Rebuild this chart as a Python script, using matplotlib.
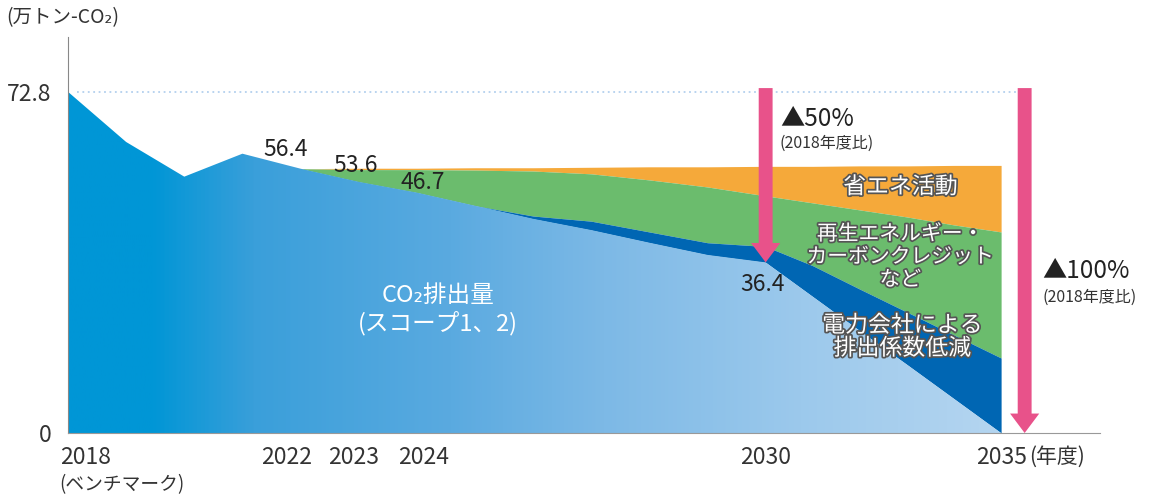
import numpy as np
import matplotlib
matplotlib.use('Agg')
import matplotlib.pyplot as plt
import matplotlib.patheffects as pe
from matplotlib.colors import LinearSegmentedColormap
from matplotlib.transforms import ScaledTranslation

plt.rcParams['font.family'] = ['Noto Sans CJK JP', 'DejaVu Sans']

#fiscal years
years = np.arange(2018, 2036)
#CO2 emissions (scope 1, 2), 10k t-CO2
co2 = np.array([72.8, 62.1, 54.7, 59.6, 56.4, 53.6, 51.3, 48.5, 45.7,
                43.3, 40.6, 38.0, 36.4, 29.1, 21.8, 14.6, 7.3, 0.0])
#reduction by lower emission factor of power companies
power_cut = np.array([0, 0, 0, 0, 0, 0, 0, 0, 0.6,
                      1.9, 2.3, 2.6, 3.4, 6.6, 8.9, 11.2, 13.6, 16.0])
#reduction by renewable energy / carbon credits
renew_cut = np.array([0, 0, 0, 0, 0, 2.6, 4.9, 7.6, 9.6,
                      10.1, 11.1, 11.9, 10.8, 13.4, 16.9, 20.3, 23.5, 26.9])
#reduction by energy saving
saving_cut = np.array([0, 0, 0, 0, 0, 0.3, 0.3, 0.5, 0.7,
                       1.4, 2.8, 4.3, 6.3, 7.8, 9.4, 10.9, 12.7, 14.2])

base_value = 72.8
tick_years = [2018, 2022, 2023, 2024, 2030, 2035]
tick_labels = ['2018', '2022', '2023', '2024', '2030', '2035']
tick_shift_px = [-8, -14, -5, 7, 0, 0]  #label nudges as in the picture
point_labels = ['56.4', '53.6', '46.7', '36.4']
point_years = [2022, 2023, 2024, 2030]

PINK = '#E8528A'
DARK_BLUE = '#0066B3'
GREEN = '#6BBC6D'
ORANGE = '#F5A93A'
TEXT = '#333333'

#the picture squeezes the 2030-2035 span a bit
def fwd(x):
    x = np.asarray(x, dtype=float)
    return np.where(x <= 2030, x, 2030 + (x - 2030) * 0.81)

def inv(x):
    x = np.asarray(x, dtype=float)
    return np.where(x <= 2030, x, 2030 + (x - 2030) / 0.81)

fig = plt.figure(figsize=(11.58, 4.95), dpi=100)
ax = fig.add_axes([68 / 1158, 62 / 495, 1032 / 1158, 396 / 495])
ax.set_xscale('function', functions=(fwd, inv))

#stacked boundaries
top_power = co2 + power_cut
top_renew = top_power + renew_cut
top_saving = top_renew + saving_cut

ax.fill_between(years, top_renew, top_saving, color=ORANGE, lw=0, zorder=2)
ax.fill_between(years, top_power, top_renew, color=GREEN, lw=0, zorder=2)
ax.fill_between(years, co2, top_power, color=DARK_BLUE, lw=0, zorder=2)

#co2 area with horizontal gradient
poly = ax.fill_between(years, 0, co2, color='none', lw=0, zorder=3)
cmap = LinearSegmentedColormap.from_list('co2', [
    (0.0, '#0096D6'), (0.08, '#0096D6'), (0.18, '#3A9FDA'), (0.37, '#5AAAE0'),
    (0.52, '#7DB9E6'), (0.71, '#9CC9EC'), (0.9, '#B4D5F0'), (1.0, '#B8D8F1')])
grad = np.linspace(0, 1, 512).reshape(1, -1)
im = ax.imshow(grad, cmap=cmap, extent=(0, 1, 0, 1), transform=ax.transAxes,
               aspect='auto', zorder=3)
im.set_clip_path(poly.get_paths()[0], transform=ax.transData)

#2018 level reference line
ax.hlines(base_value, 2018.15, 2035.4, colors='#B3D0EE', linestyles=(0, (1, 2)),
          lw=1.3, zorder=1)

#reduction arrows
arrow_style = 'simple,head_length=1.4,head_width=2.1,tail_width=1.0'
ax.annotate('', xy=(2030, co2[years == 2030][0]), xytext=(2030, 73.6),
            arrowprops=dict(arrowstyle=arrow_style, mutation_scale=10, color=PINK,
                            lw=0, shrinkA=0, shrinkB=0), zorder=6)
ax.annotate('', xy=(2035.5, 0), xytext=(2035.5, 73.6),
            arrowprops=dict(arrowstyle=arrow_style, mutation_scale=10, color=PINK,
                            lw=0, shrinkA=0, shrinkB=0), zorder=6)

ax.text(2030.3, 67.0, '▲50%', fontsize=17.5, va='center', ha='left', color='#222222')
ax.text(2030.3, 61.8, '(2018年度比)', fontsize=11.5, va='center', ha='left', color=TEXT)
ax.text(2035.88, 34.6, '▲100%', fontsize=17.5, va='center', ha='left', color='#222222')
ax.text(2035.88, 28.9, '(2018年度比)', fontsize=11.5, va='center', ha='left', color=TEXT)

#value labels
offsets = [(-11, 14), (-2, 12), (4, 7), (-2, -16)]
for lab, yr, off in zip(point_labels, point_years, offsets):
    ax.annotate(lab, xy=(yr, co2[years == yr][0]), xytext=off, textcoords='offset points',
                ha='center', va='center', fontsize=16.5, color='#222222', zorder=7)

#layer names
ax.text(2024.37, 26.3, 'CO₂排出量\n(スコープ1、2)', fontsize=17, color='white',
        ha='center', va='center', linespacing=1.2, zorder=7)
outline = [pe.withStroke(linewidth=2.5, foreground='#555555')]
ax.text(2032.86, 52.5, '省エネ活動', fontsize=16.5, color='white', ha='center', va='center',
        path_effects=outline, zorder=7)
ax.text(2032.86, 37.6, '再生エネルギー・\nカーボンクレジット\nなど', fontsize=15, color='white',
        ha='center', va='center', linespacing=1.05, path_effects=outline, zorder=7)
ax.text(2032.9, 20.5, '電力会社による\n排出係数低減', fontsize=16.5, color='white',
        ha='center', va='center', linespacing=1.0, path_effects=outline, zorder=7)

#axes styling
ax.set_xlim(2018, 2037.1)
ax.set_ylim(0, 84.5)
for side in ['top', 'right']:
    ax.spines[side].set_visible(False)
ax.spines['left'].set_color('#888888')
ax.spines['bottom'].set_color('#999999')
ax.spines['left'].set_zorder(8)
ax.spines['bottom'].set_zorder(8)
ax.set_yticks([0, base_value])
ax.set_yticklabels(['0', '72.8'], fontsize=16.5, color=TEXT)
ax.set_xticks(tick_years)
ax.set_xticklabels(tick_labels, fontsize=16.5, color=TEXT)
ax.xaxis.set_minor_locator(plt.NullLocator())
ax.tick_params(axis='both', length=0)
ax.tick_params(axis='y', pad=12)
ax.tick_params(axis='x', pad=9)
for i, lbl in enumerate(ax.get_xticklabels()):
    if i == 0:
        lbl.set_horizontalalignment('left')
    lbl.set_transform(lbl.get_transform()
                      + ScaledTranslation(tick_shift_px[i] / 100, 0, fig.dpi_scale_trans))

ax.annotate('(ベンチマーク)', xy=(2018, 0), xytext=(-6, -37), textcoords='offset points',
            ha='left', va='center', fontsize=13.5, color=TEXT, annotation_clip=False)
ax.annotate('(年度)', xy=(2035, 0), xytext=(20, -9), textcoords='offset points',
            ha='left', va='top', fontsize=15, color=TEXT, annotation_clip=False)
fig.text(6 / 1158, 1 - 18 / 495, '(万トン-CO₂)', fontsize=14, va='center', ha='left',
         color=TEXT)

fig.savefig('out.png', dpi=100)
